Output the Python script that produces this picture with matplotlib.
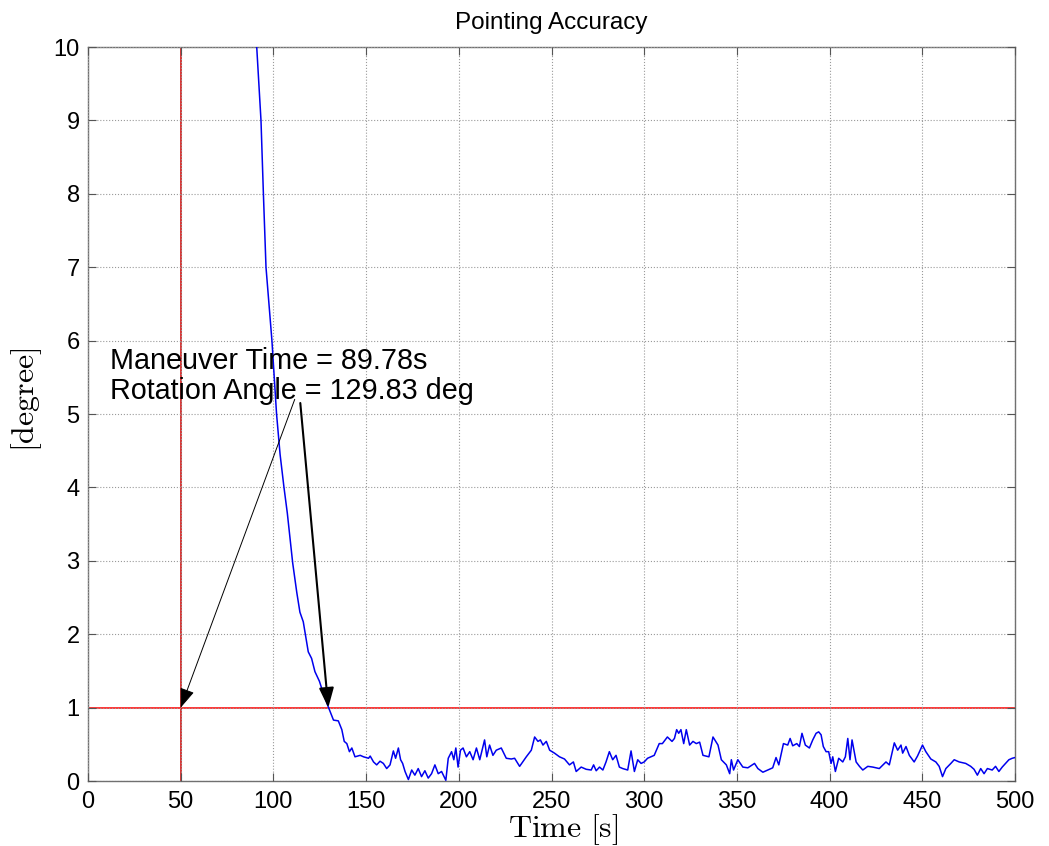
import matplotlib
matplotlib.use("Agg")
import matplotlib.pyplot as plt
import numpy as np

plt.rcParams['font.family'] = ['Liberation Sans', 'DejaVu Sans']
plt.rcParams['mathtext.fontset'] = 'cm'

# Pointing error time series [s], [degree]
time_s = [90.5, 91.0, 93.3, 94.6, 96.0, 97.6, 99.2, 101.7, 103.6, 105.7, 107.5,
          110.4, 112.6, 114.3, 116.1, 117.6, 118.8, 120.6, 122.4, 124.8, 126.6,
          129.6, 132.4, 135.0, 136.9, 138.2, 139.6, 141.0, 142.3, 144.0, 146.8,
          148.6, 151.3, 152.2, 154.0, 155.7, 157.5, 159.3, 161.1, 162.9, 164.7,
          165.9, 167.4, 168.6, 169.7, 171.0, 172.8, 174.6, 176.3, 178.1, 179.9,
          181.7, 183.5, 185.3, 187.1, 188.9, 190.7, 193.0, 194.3, 196.1, 197.3,
          198.4, 199.6, 200.9, 202.3, 204.1, 205.9, 207.7, 209.5, 211.3, 213.9,
          215.1, 216.6, 218.4, 220.2, 222.9, 225.6, 228.3, 230.1, 232.8, 236.4,
          239.1, 240.9, 242.7, 244.0, 245.4, 247.2, 249.0, 251.6, 254.3, 257.0,
          259.7, 261.8, 263.3, 266.0, 268.7, 271.4, 272.7, 274.1, 275.9, 277.7,
          279.4, 281.2, 283.0, 284.8, 286.6, 288.4, 291.1, 292.9, 294.7, 296.5,
          298.3, 300.0, 301.8, 303.6, 305.4, 308.1, 309.8, 312.5, 315.0, 316.3,
          317.5, 318.6, 319.8, 321.3, 322.7, 324.5, 326.3, 328.1, 329.9, 331.7,
          334.9, 337.1, 339.8, 341.6, 344.3, 346.1, 347.0, 348.2, 350.5, 353.2,
          355.9, 359.5, 361.3, 364.0, 366.7, 369.3, 371.1, 372.6, 375.1, 377.4,
          378.7, 380.1, 382.3, 383.7, 385.1, 386.9, 389.1, 390.9, 392.7, 394.1,
          395.4, 396.6, 398.1, 399.5, 400.8, 401.7, 403.1, 404.9, 407.1, 408.5,
          409.8, 411.0, 412.1, 414.3, 416.1, 417.9, 420.6, 423.3, 426.8, 430.4,
          432.2, 434.0, 434.9, 436.7, 438.5, 439.4, 441.2, 443.0, 445.6, 447.4,
          450.1, 451.9, 454.6, 457.3, 459.1, 460.9, 462.7, 465.4, 467.2, 469.9,
          473.4, 476.1, 477.9, 479.7, 481.5, 483.3, 485.1, 487.7, 489.5, 491.3,
          493.1, 494.9, 496.7, 498.5, 500.0]
error_deg = [10.4, 10.0, 9.0, 8.0, 7.0, 6.5, 6.0, 5.0, 4.45, 4.0, 3.65,
             2.97, 2.57, 2.30, 2.17, 1.94, 1.76, 1.67, 1.49, 1.36, 1.22,
             1.01, 0.83, 0.82, 0.70, 0.54, 0.51, 0.40, 0.45, 0.33, 0.35,
             0.33, 0.31, 0.34, 0.26, 0.22, 0.27, 0.24, 0.17, 0.22, 0.41,
             0.31, 0.45, 0.29, 0.24, 0.13, 0.02, 0.15, 0.08, 0.17, 0.06,
             0.14, 0.04, 0.10, 0.22, 0.10, 0.13, 0.01, 0.31, 0.40, 0.29,
             0.45, 0.19, 0.42, 0.45, 0.33, 0.40, 0.29, 0.45, 0.29, 0.56,
             0.33, 0.49, 0.35, 0.42, 0.45, 0.31, 0.30, 0.31, 0.20, 0.33,
             0.42, 0.60, 0.54, 0.56, 0.49, 0.54, 0.42, 0.38, 0.33, 0.30,
             0.22, 0.26, 0.13, 0.19, 0.16, 0.15, 0.22, 0.14, 0.19, 0.15,
             0.26, 0.40, 0.29, 0.35, 0.19, 0.17, 0.15, 0.41, 0.13, 0.29,
             0.24, 0.26, 0.31, 0.33, 0.35, 0.51, 0.51, 0.60, 0.54, 0.58,
             0.70, 0.65, 0.70, 0.51, 0.70, 0.49, 0.54, 0.51, 0.53, 0.35,
             0.33, 0.60, 0.49, 0.29, 0.22, 0.10, 0.29, 0.15, 0.29, 0.19,
             0.18, 0.24, 0.17, 0.12, 0.15, 0.18, 0.32, 0.22, 0.51, 0.49,
             0.58, 0.48, 0.51, 0.47, 0.65, 0.49, 0.45, 0.56, 0.65, 0.67,
             0.63, 0.47, 0.40, 0.40, 0.24, 0.33, 0.13, 0.31, 0.26, 0.33,
             0.58, 0.29, 0.56, 0.26, 0.20, 0.15, 0.20, 0.19, 0.17, 0.26,
             0.22, 0.42, 0.52, 0.42, 0.49, 0.38, 0.47, 0.35, 0.26, 0.34,
             0.49, 0.40, 0.30, 0.26, 0.20, 0.06, 0.17, 0.24, 0.29, 0.26,
             0.24, 0.20, 0.16, 0.08, 0.17, 0.10, 0.17, 0.15, 0.20, 0.13,
             0.19, 0.24, 0.29, 0.31, 0.32]

x_ticks = [0, 50, 100, 150, 200, 250, 300, 350, 400, 450, 500]
y_ticks = [0, 1, 2, 3, 4, 5, 6, 7, 8, 9, 10]
threshold_deg = 1.0
start_time = 50.0
end_time = 129.6
annot_lines = ["Maneuver Time = 89.78s", "Rotation Angle = 129.83 deg"]

fig = plt.figure(figsize=(10.49, 8.46), dpi=100)
ax = fig.add_axes([0.0839, 0.0768, 0.8837, 0.8676])

ax.plot(time_s, error_deg, color='#0000ee', lw=1.1, zorder=3)
ax.axhline(threshold_deg, color='#ff0000', lw=1.1, zorder=2)
ax.axvline(start_time, color='#cc0000', lw=1.1, zorder=2)

ax.set_xlim(0, 500)
ax.set_ylim(0, 10)
ax.set_xticks(x_ticks)
ax.set_yticks(y_ticks)
ax.tick_params(direction='in', top=True, right=True, length=6, width=0.8,
               labelsize=17, colors='#555555', labelcolor='black')
ax.tick_params(axis='x', pad=7)
ax.tick_params(axis='y', pad=6)
ax.grid(True, linestyle=':', color='#9a9a9a', lw=0.8)
ax.set_axisbelow(False)
for s in ax.spines.values():
    s.set_color('#707070')
    s.set_linewidth(1.0)

ax.set_title('Pointing Accuracy', fontsize=17.5, pad=13)
ax.set_xlabel(r'$\mathrm{Time\ [s]}$', fontsize=23)
ax.xaxis.set_label_coords(0.513, -0.042)
ax.set_ylabel(r'$\mathrm{[degree]}$', fontsize=23)
ax.yaxis.set_label_coords(-0.047, 0.52)

ax.text(11.9, 5.52, "\n".join(annot_lines), fontsize=20.7, ha='left', va='center',
        linespacing=1.1, zorder=5)

ax.annotate('', xy=(start_time, threshold_deg), xytext=(111.5, 5.2),
            arrowprops=dict(arrowstyle='-|>,head_length=1.2,head_width=0.45',
                            color='black', lw=0.7, shrinkA=0, shrinkB=0), zorder=6)
ax.annotate('', xy=(end_time, threshold_deg), xytext=(114.5, 5.15),
            arrowprops=dict(arrowstyle='-|>,head_length=1.2,head_width=0.45',
                            color='black', lw=1.5, shrinkA=0, shrinkB=0), zorder=6)

fig.savefig('out.png', dpi=100)
